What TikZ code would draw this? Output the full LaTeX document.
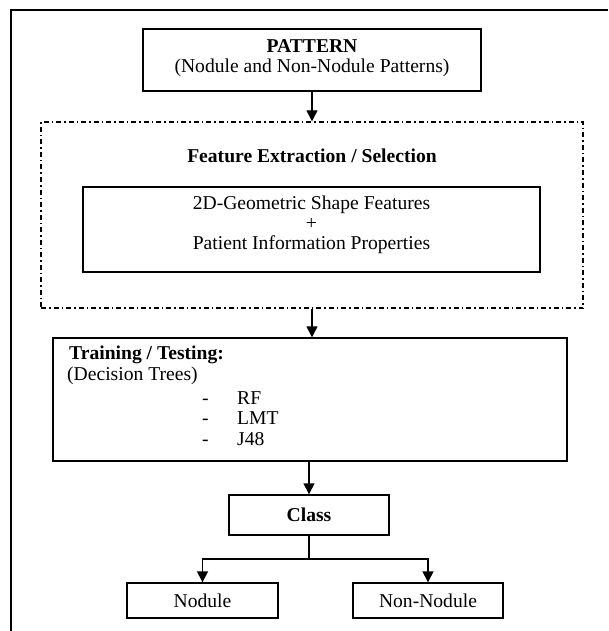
\documentclass[tikz,border=0pt]{standalone}
\usepackage{fontspec}
\setmainfont{Liberation Serif}
\usetikzlibrary{arrows.meta}
\begin{document}
\begin{tikzpicture}[x=1pt,y=-1pt,
  box/.style={draw,line width=1.4pt,inner sep=0pt},
  txt/.style={inner sep=0pt,font=\fontsize{19.6}{22}\selectfont,align=center},
  conn/.style={line width=1.4pt,-{Triangle[width=11pt,length=11pt]}},
  dashdot/.style={draw,line width=1.4pt,dash pattern=on 5pt off 3pt on 1.5pt off 3pt}]
\useasboundingbox (0,0) rectangle (608,631);
\draw[line width=1.4pt] (11,631) -- (11,10) -- (608,10);
% Pattern
\node[box,minimum width=338pt,minimum height=62pt] (pat) at (312,60) {};
\node[txt] (patT) at (312,46) {\bfseries PATTERN};
\node[txt] (patS) at (312,68) {(Nodule and Non-Nodule Patterns)};
% Feature extraction
\node[dashdot,minimum width=542pt,minimum height=186pt,inner sep=0pt] (fe) at (312,215) {};
\node[txt] (feT) at (312,156) {\bfseries Feature Extraction / Selection};
\node[box,minimum width=457pt,minimum height=85pt] (inner) at (311.5,229.5) {};
\node[txt] (in1) at (311.5,205) {2D-Geometric Shape Features};
\node[txt] (in2) at (311.5,224) {+};
\node[txt] (in3) at (311.5,245) {Patient Information Properties};
% Training
\node[box,minimum width=514pt,minimum height=123pt] (tr) at (310,399.5) {};
\node[txt,anchor=west] (trT) at (69,355) {\bfseries Training / Testing:};
\node[txt,anchor=west] (trS) at (67,376) {(Decision Trees)};
\node[txt,anchor=base west] (d1) at (202,404) {-};
\node[txt,anchor=base west] (d2) at (202,424.5) {-};
\node[txt,anchor=base west] (d3) at (202,445) {-};
\node[txt,anchor=base west] (i1) at (237,404) {RF};
\node[txt,anchor=base west] (i2) at (237,424.5) {LMT};
\node[txt,anchor=base west] (i3) at (237,445) {J48};
% Class
\node[box,minimum width=160pt,minimum height=40pt,font=\fontsize{19.6}{22}\selectfont\bfseries] (cls) at (309,515) {Class};
\node[box,minimum width=151pt,minimum height=35pt,font=\fontsize{19.6}{22}\selectfont] (nod) at (202.5,600.5) {Nodule};
\node[box,minimum width=150pt,minimum height=35pt,font=\fontsize{19.6}{22}\selectfont] (non) at (428,600.5) {Non-Nodule};
% connectors
\draw[conn] (pat.south) -- (fe.north);
\draw[conn] (fe.south) -- (fe.south |- tr.north);
\draw[conn] (tr.south -| cls.north) -- (cls.north);
\coordinate (split) at (309,559);
\draw[line width=1.4pt] (cls.south) -- (split);
\draw[conn] (split) -| (nod.north);
\draw[conn] (split) -| (non.north);
\end{tikzpicture}
\end{document}
